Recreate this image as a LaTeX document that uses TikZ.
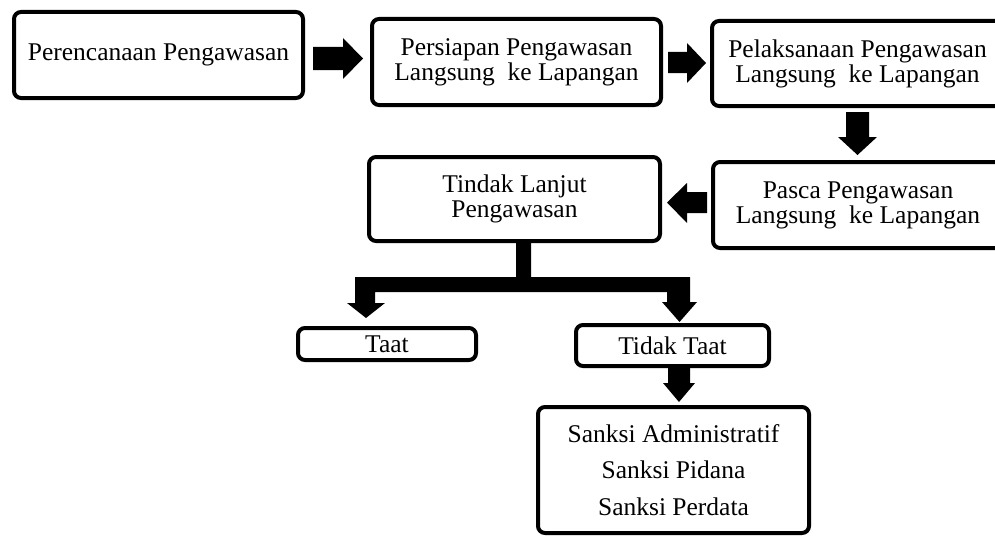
\documentclass[tikz,border=0pt]{standalone}
\usepackage{fontspec}
\setmainfont{Liberation Serif}
\begin{document}
\begin{tikzpicture}[x=1pt,y=-1pt,
  box/.style={draw=black, line width=4pt, rounded corners=7pt, fill=white,
    inner sep=0pt, align=center, font=\fontsize{25.5}{25}\selectfont},
  blockarrow/.style={fill=black, draw=none}]
\useasboundingbox[fill=white] (0,0) rectangle (995,535);

% boxes
\node[box, minimum width=289pt, minimum height=86pt] (b1) at (158.5,55) {Perencanaan Pengawasan};
\node[box, minimum width=289pt, minimum height=86pt] (b2) at (516.5,62) {Persiapan Pengawasan\\Langsung~ ke Lapangan};
\node[box, minimum width=291pt, minimum height=85pt] (b3) at (857.5,63.5) {Pelaksanaan Pengawasan\\Langsung~ ke Lapangan};
\node[box, minimum width=290pt, minimum height=86pt] (b4) at (858,205) {Pasca Pengawasan\\Langsung~ ke Lapangan};
\node[box, minimum width=291pt, minimum height=84pt] (b5) at (514.5,199) {Tindak Lanjut\\Pengawasan};
\node[box, minimum width=178pt, minimum height=32pt] (taat) at (387,344) {Taat};
\node[box, minimum width=193pt, minimum height=41pt] (tidak) at (672.5,345.5) {Tidak Taat};
\node[box, minimum width=271pt, minimum height=126pt,
      font=\fontsize{25.5}{36.5}\selectfont] (sanksi) at (673.5,470)
      {Sanksi Administratif\\Sanksi Pidana\\Sanksi Perdata};

% block arrows
\fill[blockarrow] (313,47) -- (343,47) -- (343,38) -- (363,58.5) -- (343,79) -- (343,70) -- (313,70) -- cycle;
\fill[blockarrow] (668,52) -- (687,52) -- (687,43) -- (706,63) -- (687,83) -- (687,73) -- (668,73) -- cycle;
\fill[blockarrow] (846,112) -- (869,112) -- (869,137) -- (877,137) -- (857.5,155) -- (838,137) -- (846,137) -- cycle;
\fill[blockarrow] (707,192) -- (687,192) -- (687,183) -- (667,202.5) -- (687,223) -- (687,213) -- (707,213) -- cycle;
\fill[blockarrow] (516,242) -- (531,242) -- (531,277) -- (690,277) -- (690,302) -- (697,302)
  -- (679.5,322) -- (662,302) -- (667,302) -- (667,292) -- (375,292) -- (375,303) -- (385,303)
  -- (366,318) -- (347,303) -- (355,303) -- (355,277) -- (516,277) -- cycle;
\fill[blockarrow] (668,366) -- (690,366) -- (690,383) -- (695,383) -- (679,402) -- (663,383) -- (668,383) -- cycle;
\end{tikzpicture}
\end{document}
